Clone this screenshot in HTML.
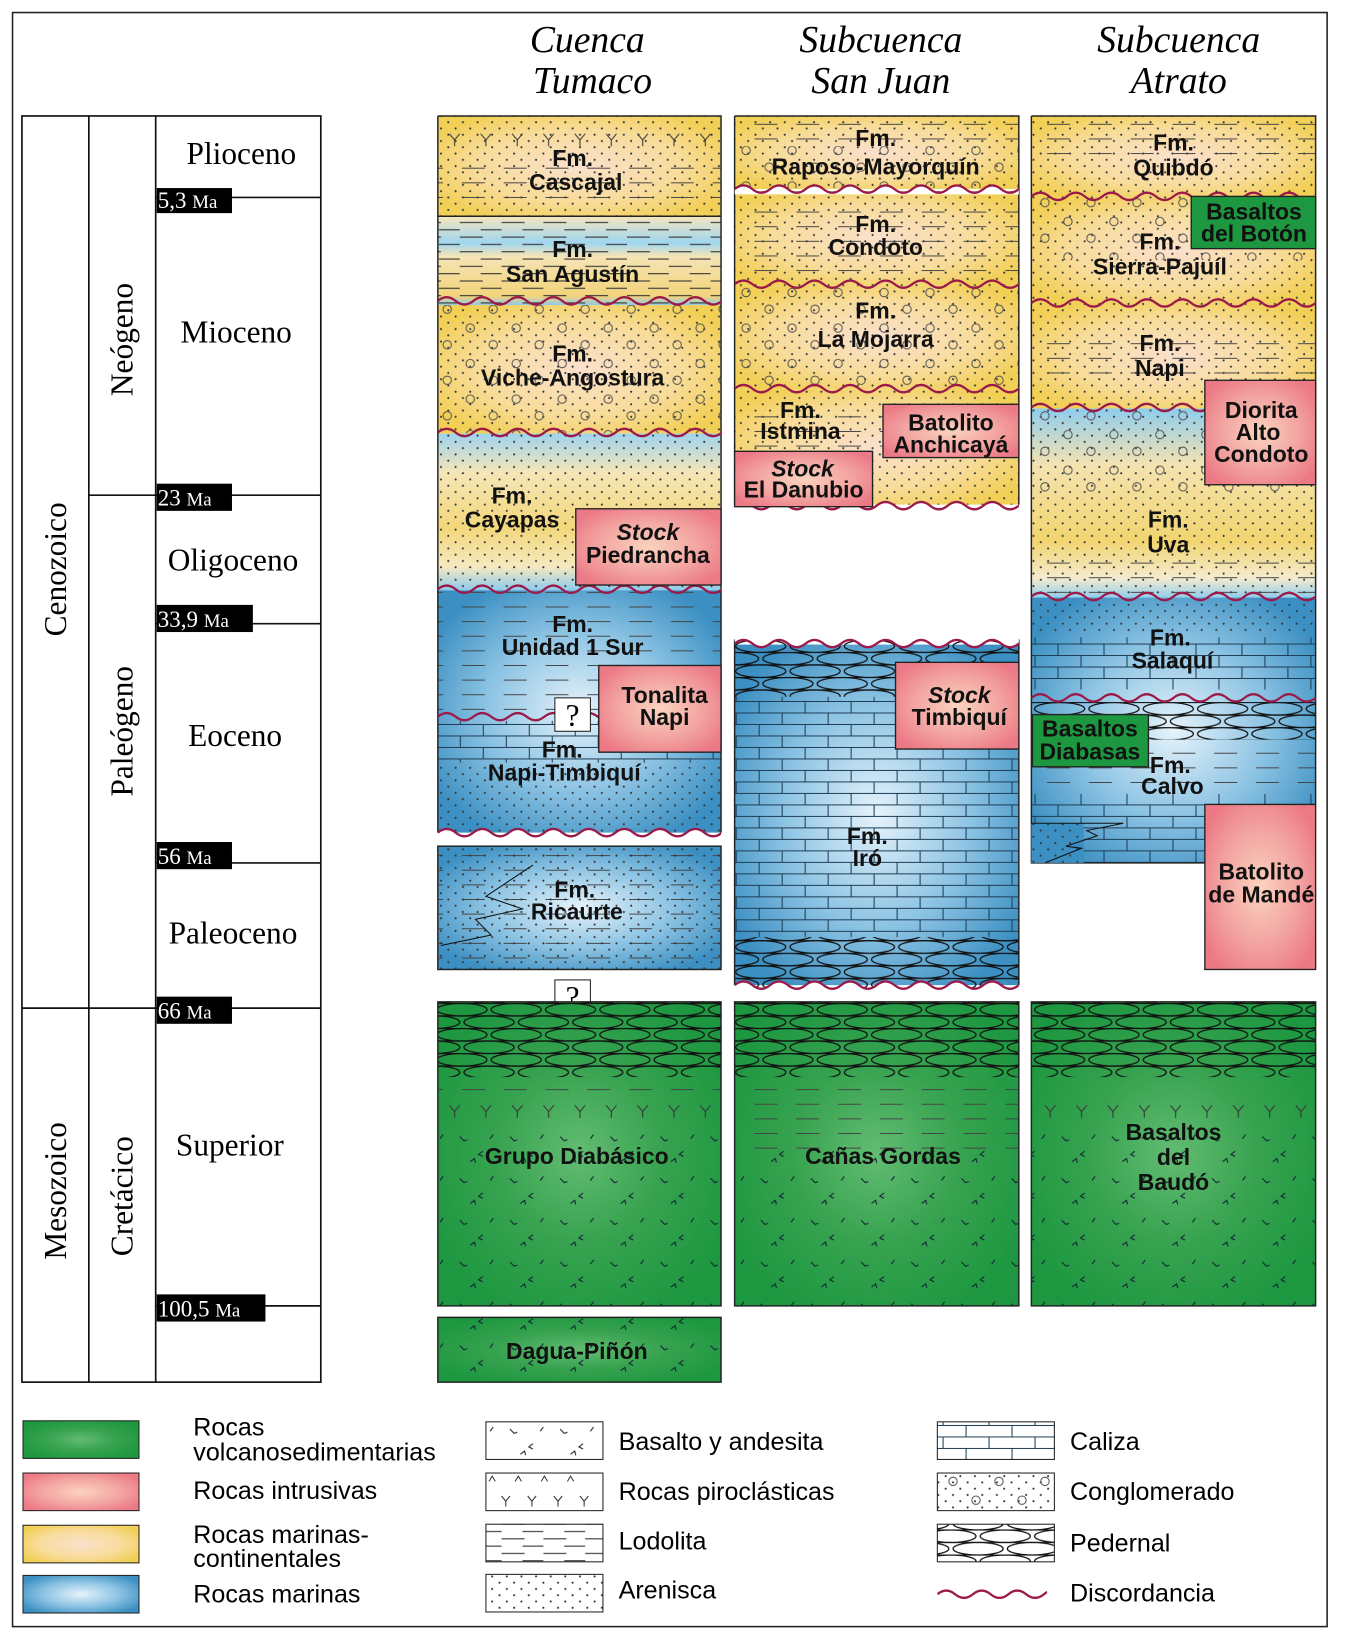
<!DOCTYPE html>
<html><head><meta charset="utf-8"><style>
html,body{margin:0;padding:0;background:#fff}
svg{display:block}
.h{font-family:"Liberation Serif",serif;font-style:italic;font-size:36px;text-anchor:middle}
.e{font-family:"Liberation Serif",serif;font-size:30px;text-anchor:middle}
.l{font-family:"Liberation Sans",sans-serif;font-weight:bold;font-size:22px;text-anchor:middle;fill:#111}
.g{font-family:"Liberation Sans",sans-serif;font-size:24px}
.ma{font-family:"Liberation Serif",serif;font-size:22px;fill:#fff}
</style></head><body>
<svg id="s" width="1371" height="1636" viewBox="0 0 1312 1566" preserveAspectRatio="none" xmlns="http://www.w3.org/2000/svg">
<defs>
<radialGradient id="gy" cx="50%" cy="50%" r="60%"><stop offset="0" stop-color="#fbe0cc"/><stop offset="0.6" stop-color="#f8dc9a"/><stop offset="1" stop-color="#f2cf55"/></radialGradient>
<radialGradient id="gb" cx="50%" cy="50%" r="60%"><stop offset="0" stop-color="#e6f3fb"/><stop offset="0.55" stop-color="#8cc3e3"/><stop offset="1" stop-color="#3b8fc2"/></radialGradient>
<linearGradient id="gyb" x1="0" y1="0" x2="0" y2="1"><stop offset="0" stop-color="#9fd3ee"/><stop offset="0.25" stop-color="#f5e6b8"/><stop offset="0.6" stop-color="#f3d77a"/><stop offset="0.85" stop-color="#f5e9c0"/><stop offset="1" stop-color="#8fcbed"/></linearGradient>
<linearGradient id="gyb2" x1="0" y1="0" x2="0" y2="1"><stop offset="0" stop-color="#8fcdee"/><stop offset="0.3" stop-color="#f4e3b0"/><stop offset="0.7" stop-color="#f2d56f"/><stop offset="0.9" stop-color="#f4ebd0"/><stop offset="1" stop-color="#92cdec"/></linearGradient>
<linearGradient id="gsa" x1="0" y1="0" x2="0" y2="1"><stop offset="0" stop-color="#f6e6be"/><stop offset="0.3" stop-color="#9ed6f0"/><stop offset="0.45" stop-color="#f5e4b6"/><stop offset="0.9" stop-color="#f3d47a"/><stop offset="1" stop-color="#8fcbea"/></linearGradient>
<radialGradient id="gg" cx="50%" cy="50%" r="60%"><stop offset="0" stop-color="#62bc72"/><stop offset="0.5" stop-color="#36a24f"/><stop offset="1" stop-color="#1d9740"/></radialGradient>
<radialGradient id="gp" cx="50%" cy="50%" r="60%"><stop offset="0" stop-color="#fbd3be"/><stop offset="0.6" stop-color="#f2a2a0"/><stop offset="1" stop-color="#ec7a86"/></radialGradient>
<pattern id="dots" width="14" height="12" patternUnits="userSpaceOnUse"><circle cx="2" cy="3" r="1" fill="#333"/><circle cx="9" cy="9" r="1" fill="#333"/></pattern>
<pattern id="dash" width="40" height="14" patternUnits="userSpaceOnUse"><path d="M2 7H24" stroke="#444" stroke-width="1"/></pattern>
<pattern id="dash2" width="40" height="14" patternUnits="userSpaceOnUse"><path d="M0 3H22M20 10H40" stroke="#333" stroke-width="1"/></pattern>
<pattern id="circ" width="44" height="34" patternUnits="userSpaceOnUse"><circle cx="10" cy="8" r="4" fill="none" stroke="#555"/><circle cx="32" cy="24" r="4" fill="none" stroke="#555"/></pattern>
<pattern id="brick" width="44" height="22" patternUnits="userSpaceOnUse"><path d="M0 0.5H44M0 11.5H44M0.5 0V11M22.5 11V22" stroke="#1d3d55" stroke-width="1" fill="none"/></pattern>
<pattern id="ped" width="52" height="24" patternUnits="userSpaceOnUse"><path d="M0 0.5H52M0 12.5H52" stroke="#111" stroke-width="1.2"/><ellipse cx="26" cy="6.5" rx="24" ry="6" fill="none" stroke="#111" stroke-width="1.2"/><ellipse cx="0" cy="18.5" rx="24" ry="6" fill="none" stroke="#111" stroke-width="1.2"/><ellipse cx="52" cy="18.5" rx="24" ry="6" fill="none" stroke="#111" stroke-width="1.2"/></pattern>
<pattern id="yy" width="30" height="30" patternUnits="userSpaceOnUse"><path d="M10 8L15 14L20 8M15 14V20" stroke="#333" fill="none"/></pattern>
<pattern id="tick" width="48" height="40" patternUnits="userSpaceOnUse"><path d="M8 8l4 4 3-1M30 22l-4 3 4 2M18 32l4-3 1 4M40 6l-3 4" stroke="#123" fill="none"/></pattern>
</defs>
<rect x="12" y="12" width="1258" height="1545" fill="#fff" stroke="#222" stroke-width="1.5"/>
<text class="h" x="562" y="50">Cuenca</text><text class="h" x="567" y="89">Tumaco</text>
<text class="h" x="843" y="50">Subcuenca</text><text class="h" x="843" y="89">San Juan</text>
<text class="h" x="1128" y="50">Subcuenca</text><text class="h" x="1128" y="89">Atrato</text>

<!-- time scale -->
<g stroke="#111" stroke-width="1.6" fill="none">
<rect x="21" y="111" width="286" height="1212"/>
<path d="M85 111V1323M149 111V1323M21 965H307M85 474H307M149 189H307M149 597H307M149 826H307M149 1250H307"/>
</g>
<g fill="#000">
<rect x="150" y="180" width="72" height="24"/><rect x="150" y="463" width="72" height="26"/><rect x="150" y="579" width="92" height="26"/><rect x="150" y="806" width="72" height="26"/><rect x="150" y="954" width="72" height="26"/><rect x="150" y="1239" width="104" height="26"/>
</g>
<text class="ma" x="151" y="199">5,3 <tspan font-size="18">Ma</tspan></text>
<text class="ma" x="151" y="484" font-size="26">23 <tspan font-size="18">Ma</tspan></text>
<text class="ma" x="151" y="600" font-size="26">33,9 <tspan font-size="18">Ma</tspan></text>
<text class="ma" x="151" y="827" font-size="26">56 <tspan font-size="18">Ma</tspan></text>
<text class="ma" x="151" y="975" font-size="26">66 <tspan font-size="18">Ma</tspan></text>
<text class="ma" x="151" y="1260" font-size="26">100,5 <tspan font-size="18">Ma</tspan></text>
<text class="e" x="231" y="157">Plioceno</text>
<text class="e" x="226" y="328">Mioceno</text>
<text class="e" x="223" y="546">Oligoceno</text>
<text class="e" x="225" y="714">Eoceno</text>
<text class="e" x="223" y="903">Paleoceno</text>
<text class="e" x="220" y="1106">Superior</text>
<text class="e" transform="translate(63,545) rotate(-90)">Cenozoico</text>
<text class="e" transform="translate(63,1140) rotate(-90)">Mesozoico</text>
<text class="e" transform="translate(127,325) rotate(-90)">Neógeno</text>
<text class="e" transform="translate(127,700) rotate(-90)">Paleógeno</text>
<text class="e" transform="translate(127,1145) rotate(-90)">Cretácico</text>

<!-- Tumaco -->
<rect x="419" y="111" width="271" height="96" fill="url(#gy)"/><rect x="419" y="111" width="271" height="96" fill="url(#dots)"/><rect x="419" y="150" width="271" height="40" fill="url(#dash)"/><rect x="419" y="118" width="271" height="30" fill="url(#yy)"/>
<rect x="419" y="207" width="271" height="85" fill="url(#gsa)"/><rect x="419" y="207" width="271" height="85" fill="url(#dash2)"/>
<rect x="419" y="292" width="271" height="123" fill="url(#gy)"/><rect x="419" y="292" width="271" height="123" fill="url(#dots)"/><rect x="419" y="292" width="271" height="123" fill="url(#circ)"/>
<rect x="419" y="415" width="271" height="150" fill="url(#gyb)"/><rect x="419" y="415" width="271" height="150" fill="url(#dots)"/>
<rect x="419" y="565" width="271" height="232" fill="url(#gb)"/><rect x="419" y="565" width="271" height="120" fill="url(#dash)"/><rect x="419" y="690" width="271" height="40" fill="url(#brick)"/><rect x="419" y="730" width="271" height="67" fill="url(#dots)"/>
<path d="M419 111H690V797M419 797V111M419 207H690" fill="none" stroke="#222" stroke-width="1.4"/>
<g id="w1"></g>
<rect x="551" y="487" width="139" height="73" fill="url(#gp)" stroke="#222" stroke-width="1.3"/>
<rect x="573" y="637" width="117" height="83" fill="url(#gp)" stroke="#222" stroke-width="1.3"/>
<rect x="531" y="668" width="34" height="32" fill="#fff" stroke="#222"/><text x="548" y="695" class="e" font-size="28">?</text>
<rect x="419" y="810" width="271" height="118" fill="url(#gb)" stroke="#222" stroke-width="1.4"/><rect x="419" y="810" width="271" height="118" fill="url(#dash)"/><rect x="419" y="810" width="271" height="118" fill="url(#dots)"/>
<path d="M422 905L470 895L455 880L500 870L465 858L510 828" fill="none" stroke="#111"/>
<rect x="531" y="938" width="34" height="32" fill="#fff" stroke="#222"/><text x="548" y="965" class="e" font-size="28">?</text>
<text class="l" x="548" y="159">Fm.</text><text class="l" x="551" y="182">Cascajal</text>
<text class="l" x="548" y="246">Fm.</text><text class="l" x="548" y="270">San Agustín</text>
<text class="l" x="548" y="346">Fm.</text><text class="l" x="548" y="369">Viche-Angostura</text>
<text class="l" x="490" y="482">Fm.</text><text class="l" x="490" y="505">Cayapas</text>
<text class="l" x="620" y="517" font-style="italic">Stock</text><text class="l" x="620" y="539">Piedrancha</text>
<text class="l" x="548" y="605">Fm.</text><text class="l" x="548" y="627">Unidad 1 Sur</text>
<text class="l" x="636" y="673">Tonalita</text><text class="l" x="636" y="694">Napi</text>
<text class="l" x="538" y="725">Fm.</text><text class="l" x="540" y="747">Napi-Timbiquí</text>
<text class="l" x="550" y="859">Fm.</text><text class="l" x="552" y="880">Ricaurte</text>

<!-- San Juan -->
<rect x="703" y="111" width="272" height="70" fill="url(#gy)"/><rect x="703" y="111" width="272" height="70" fill="url(#dots)"/><rect x="703" y="111" width="272" height="30" fill="url(#dash)"/><rect x="703" y="140" width="272" height="40" fill="url(#circ)"/>
<rect x="703" y="183" width="272" height="90" fill="url(#gy)"/><rect x="703" y="183" width="272" height="90" fill="url(#dots)"/><rect x="703" y="190" width="272" height="80" fill="url(#dash)"/>
<rect x="703" y="273" width="272" height="100" fill="url(#gy)"/><rect x="703" y="273" width="272" height="100" fill="url(#dots)"/><rect x="703" y="273" width="272" height="100" fill="url(#circ)"/>
<rect x="703" y="373" width="272" height="110" fill="url(#gy)"/><rect x="703" y="373" width="272" height="110" fill="url(#dots)"/><rect x="703" y="395" width="272" height="40" fill="url(#dash)"/>
<path d="M703 111H975V483M703 111V483" fill="none" stroke="#222" stroke-width="1.4"/>
<rect x="703" y="617" width="272" height="326" fill="url(#gb)"/><rect x="703" y="612" width="272" height="55" fill="url(#ped)"/><rect x="703" y="667" width="272" height="230" fill="url(#brick)"/><rect x="703" y="897" width="272" height="50" fill="url(#ped)"/>
<path d="M703 612V943M975 612V943" stroke="#222" stroke-width="1.4"/>
<g id="w2"></g>
<rect x="845" y="387" width="130" height="51" fill="url(#gp)" stroke="#222" stroke-width="1.3"/>
<rect x="703" y="432" width="132" height="53" fill="url(#gp)" stroke="#222" stroke-width="1.3"/>
<rect x="857" y="634" width="118" height="83" fill="url(#gp)" stroke="#222" stroke-width="1.3"/>
<text class="l" x="838" y="140">Fm.</text><text class="l" x="838" y="167">Raposo-Mayorquín</text>
<text class="l" x="838" y="222">Fm.</text><text class="l" x="838" y="244">Condoto</text>
<text class="l" x="838" y="305">Fm.</text><text class="l" x="838" y="332">La Mojarra</text>
<text class="l" x="766" y="400">Fm.</text><text class="l" x="766" y="420">Istmina</text>
<text class="l" x="910" y="412">Batolito</text><text class="l" x="910" y="433">Anchicayá</text>
<text class="l" x="768" y="456" font-style="italic">Stock</text><text class="l" x="769" y="476">El Danubio</text>
<text class="l" x="918" y="673" font-style="italic">Stock</text><text class="l" x="918" y="694">Timbiquí</text>
<text class="l" x="830" y="808">Fm.</text><text class="l" x="830" y="829">Iró</text>

<!-- Atrato -->
<rect x="987" y="111" width="272" height="78" fill="url(#gy)"/><rect x="987" y="111" width="272" height="78" fill="url(#dots)"/><rect x="987" y="111" width="272" height="40" fill="url(#dash)"/>
<rect x="987" y="189" width="272" height="102" fill="url(#gy)"/><rect x="987" y="189" width="272" height="102" fill="url(#dots)"/><rect x="987" y="189" width="272" height="60" fill="url(#circ)"/>
<rect x="987" y="291" width="272" height="100" fill="url(#gy)"/><rect x="987" y="291" width="272" height="100" fill="url(#dots)"/><rect x="987" y="320" width="272" height="50" fill="url(#dash)"/>
<rect x="987" y="391" width="272" height="181" fill="url(#gyb2)"/><rect x="987" y="391" width="272" height="181" fill="url(#dots)"/><rect x="987" y="391" width="272" height="80" fill="url(#circ)"/><rect x="987" y="530" width="272" height="40" fill="url(#dash)"/>
<rect x="987" y="572" width="272" height="254" fill="url(#gb)"/><rect x="987" y="575" width="272" height="30" fill="url(#dots)"/><rect x="987" y="610" width="272" height="50" fill="url(#brick)"/><rect x="987" y="672" width="272" height="36" fill="url(#ped)"/><rect x="987" y="715" width="272" height="40" fill="url(#dash)"/><rect x="987" y="760" width="272" height="66" fill="url(#brick)"/>
<path d="M987 111H1259V770M987 111V826H1153" fill="none" stroke="#222" stroke-width="1.4"/>
<rect x="987" y="788" width="50" height="38" fill="#3b8fc2"/><rect x="987" y="788" width="50" height="38" fill="url(#dots)"/>
<path d="M987 788H1075L1040 795L1050 800L1020 810L1035 812L1000 826" fill="none" stroke="#111"/>
<g id="w3"></g>
<rect x="1140" y="188" width="119" height="50" fill="#1d9740" stroke="#222" stroke-width="1.3"/>
<rect x="1153" y="364" width="106" height="100" fill="url(#gp)" stroke="#222" stroke-width="1.3"/>
<rect x="988" y="684" width="111" height="50" fill="#1d9740" stroke="#222" stroke-width="1.3"/>
<rect x="1153" y="770" width="106" height="158" fill="url(#gp)" stroke="#222" stroke-width="1.3"/>
<text class="l" x="1123" y="144">Fm.</text><text class="l" x="1123" y="168">Quibdó</text>
<text class="l" x="1200" y="210">Basaltos</text><text class="l" x="1200" y="231">del Botón</text>
<text class="l" x="1110" y="239">Fm.</text><text class="l" x="1110" y="263">Sierra-Pajuíl</text>
<text class="l" x="1110" y="336">Fm.</text><text class="l" x="1110" y="360">Napi</text>
<text class="l" x="1207" y="400">Diorita</text><text class="l" x="1204" y="421">Alto</text><text class="l" x="1207" y="442">Condoto</text>
<text class="l" x="1118" y="505">Fm.</text><text class="l" x="1118" y="529">Uva</text>
<text class="l" x="1120" y="618">Fm.</text><text class="l" x="1122" y="640">Salaquí</text>
<text class="l" x="1043" y="705">Basaltos</text><text class="l" x="1043" y="727">Diabasas</text>
<text class="l" x="1120" y="740">Fm.</text><text class="l" x="1122" y="760">Calvo</text>
<text class="l" x="1207" y="842">Batolito</text><text class="l" x="1207" y="864">de Mandé</text>

<!-- green blocks -->
<g>
<rect x="419" y="959" width="271" height="291" fill="url(#gg)"/><rect x="419" y="959" width="271" height="72" fill="url(#ped)"/><rect x="419" y="1032" width="271" height="18" fill="url(#dash)"/><rect x="419" y="1048" width="271" height="30" fill="url(#yy)"/><rect x="419" y="1080" width="271" height="170" fill="url(#tick)"/>
<rect x="419" y="959" width="271" height="291" fill="none" stroke="#222" stroke-width="1.4"/>
<rect x="703" y="959" width="272" height="291" fill="url(#gg)"/><rect x="703" y="959" width="272" height="72" fill="url(#ped)"/><rect x="703" y="1032" width="272" height="70" fill="url(#dash)"/><rect x="703" y="1100" width="272" height="150" fill="url(#tick)"/>
<rect x="703" y="959" width="272" height="291" fill="none" stroke="#222" stroke-width="1.4"/>
<rect x="987" y="959" width="272" height="291" fill="url(#gg)"/><rect x="987" y="959" width="272" height="72" fill="url(#ped)"/><rect x="987" y="1048" width="272" height="30" fill="url(#yy)"/><rect x="987" y="1080" width="272" height="170" fill="url(#tick)"/>
<rect x="987" y="959" width="272" height="291" fill="none" stroke="#222" stroke-width="1.4"/>
<rect x="419" y="1261" width="271" height="62" fill="url(#gg)" stroke="#222" stroke-width="1.4"/><rect x="419" y="1261" width="271" height="62" fill="url(#tick)"/>
</g>
<text class="l" x="552" y="1114">Grupo Diabásico</text>
<text class="l" x="845" y="1114">Cañas Gordas</text>
<text class="l" x="1123" y="1091">Basaltos</text><text class="l" x="1123" y="1115">del</text><text class="l" x="1123" y="1139">Baudó</text>
<text class="l" x="552" y="1301">Dagua-Piñón</text>

<!-- legend -->
<rect x="22" y="1360" width="111" height="36" fill="url(#gg)" stroke="#222"/>
<rect x="22" y="1410" width="111" height="36" fill="url(#gp)" stroke="#222"/>
<rect x="22" y="1460" width="111" height="36" fill="url(#gy)" stroke="#222"/>
<rect x="22" y="1508" width="111" height="36" fill="url(#gb)" stroke="#222"/>
<text class="g" x="185" y="1374">Rocas</text><text class="g" x="185" y="1398">volcanosedimentarias</text>
<text class="g" x="185" y="1435">Rocas intrusivas</text>
<text class="g" x="185" y="1477">Rocas marinas-</text><text class="g" x="185" y="1500">continentales</text>
<text class="g" x="185" y="1534">Rocas marinas</text>
<rect x="465" y="1361" width="112" height="36" fill="url(#tick)" stroke="#222"/>
<rect x="465" y="1410" width="112" height="36" fill="#fff" stroke="#222"/><path d="M468 1418l3-5 3 5M493 1418l3-5 3 5M518 1418l3-5 3 5M543 1418l3-5 3 5M480 1432l4 5 4-5M484 1437v5M505 1432l4 5 4-5M509 1437v5M530 1432l4 5 4-5M534 1437v5M555 1432l4 5 4-5M559 1437v5" stroke="#333" fill="none"/>
<rect x="465" y="1459" width="112" height="36" fill="url(#dash2)" stroke="#222"/>
<rect x="465" y="1507" width="112" height="36" fill="url(#dots)" stroke="#222"/>
<text class="g" x="592" y="1388">Basalto y andesita</text>
<text class="g" x="592" y="1436">Rocas piroclásticas</text>
<text class="g" x="592" y="1483">Lodolita</text>
<text class="g" x="592" y="1530">Arenisca</text>
<rect x="897" y="1361" width="112" height="36" fill="url(#brick)" stroke="#222"/>
<rect x="897" y="1410" width="112" height="36" fill="url(#dots)" stroke="#222"/><rect x="897" y="1410" width="112" height="36" fill="url(#circ)"/>
<rect x="897" y="1459" width="112" height="36" fill="url(#ped)" stroke="#222"/>
<g id="w4"></g>
<text class="g" x="1024" y="1388">Caliza</text>
<text class="g" x="1024" y="1436">Conglomerado</text>
<text class="g" x="1024" y="1485">Pedernal</text>
<text class="g" x="1024" y="1533">Discordancia</text>
</svg>
<script>
(function(){
var NS="http://www.w3.org/2000/svg";
function wd(x,y,w,a){var d="M"+x+" "+y,p=34,n=Math.ceil(w/p);for(var i=0;i<n;i++){var x0=x+i*p;d+=" Q"+(x0+p/4)+" "+(y-2*a)+" "+(x0+p/2)+" "+y+" Q"+(x0+3*p/4)+" "+(y+2*a)+" "+(x0+p)+" "+y;}return d;}
function add(g,x,y,w,opts){opts=opts||{};var gr=document.getElementById(g);
 var cp=document.createElementNS(NS,"clipPath");var id="c"+Math.random().toString(36).slice(2);cp.setAttribute("id",id);var r=document.createElementNS(NS,"rect");r.setAttribute("x",x);r.setAttribute("y",y-30);r.setAttribute("width",w);r.setAttribute("height",60);cp.appendChild(r);gr.appendChild(cp);
 if(opts.fillBelow||opts.fillAbove){var f=document.createElementNS(NS,"path");var d=wd(x,y,w+34,3.5);d+= opts.fillBelow?(" V"+(y+opts.fillBelow)+" H"+x+" Z"):(" V"+(y-opts.fillAbove)+" H"+x+" Z");f.setAttribute("d",d);f.setAttribute("fill","#fff");f.setAttribute("clip-path","url(#"+id+")");gr.appendChild(f);}
 var pth=document.createElementNS(NS,"path");pth.setAttribute("d",wd(x,y,w+34,3.5));pth.setAttribute("fill","none");pth.setAttribute("stroke",opts.c||"#9b1a4a");pth.setAttribute("stroke-width","2.2");pth.setAttribute("clip-path","url(#"+id+")");gr.appendChild(pth);}
add("w1",419,288,271);add("w1",419,414,271);add("w1",419,564,271);add("w1",419,686,155);
add("w1",419,797,271,{fillBelow:14});
add("w2",703,181,272,{fillBelow:5});add("w2",703,272,272);add("w2",703,372,272);
add("w2",703,484,272,{fillBelow:12});add("w2",703,616,272,{fillAbove:14});add("w2",703,943,272,{fillBelow:12});
add("w3",987,188,272);add("w3",987,290,272);add("w3",987,390,272);add("w3",987,571,272);add("w3",987,668,272);
add("w4",897,1526,105);
})();
</script>
</body></html>
